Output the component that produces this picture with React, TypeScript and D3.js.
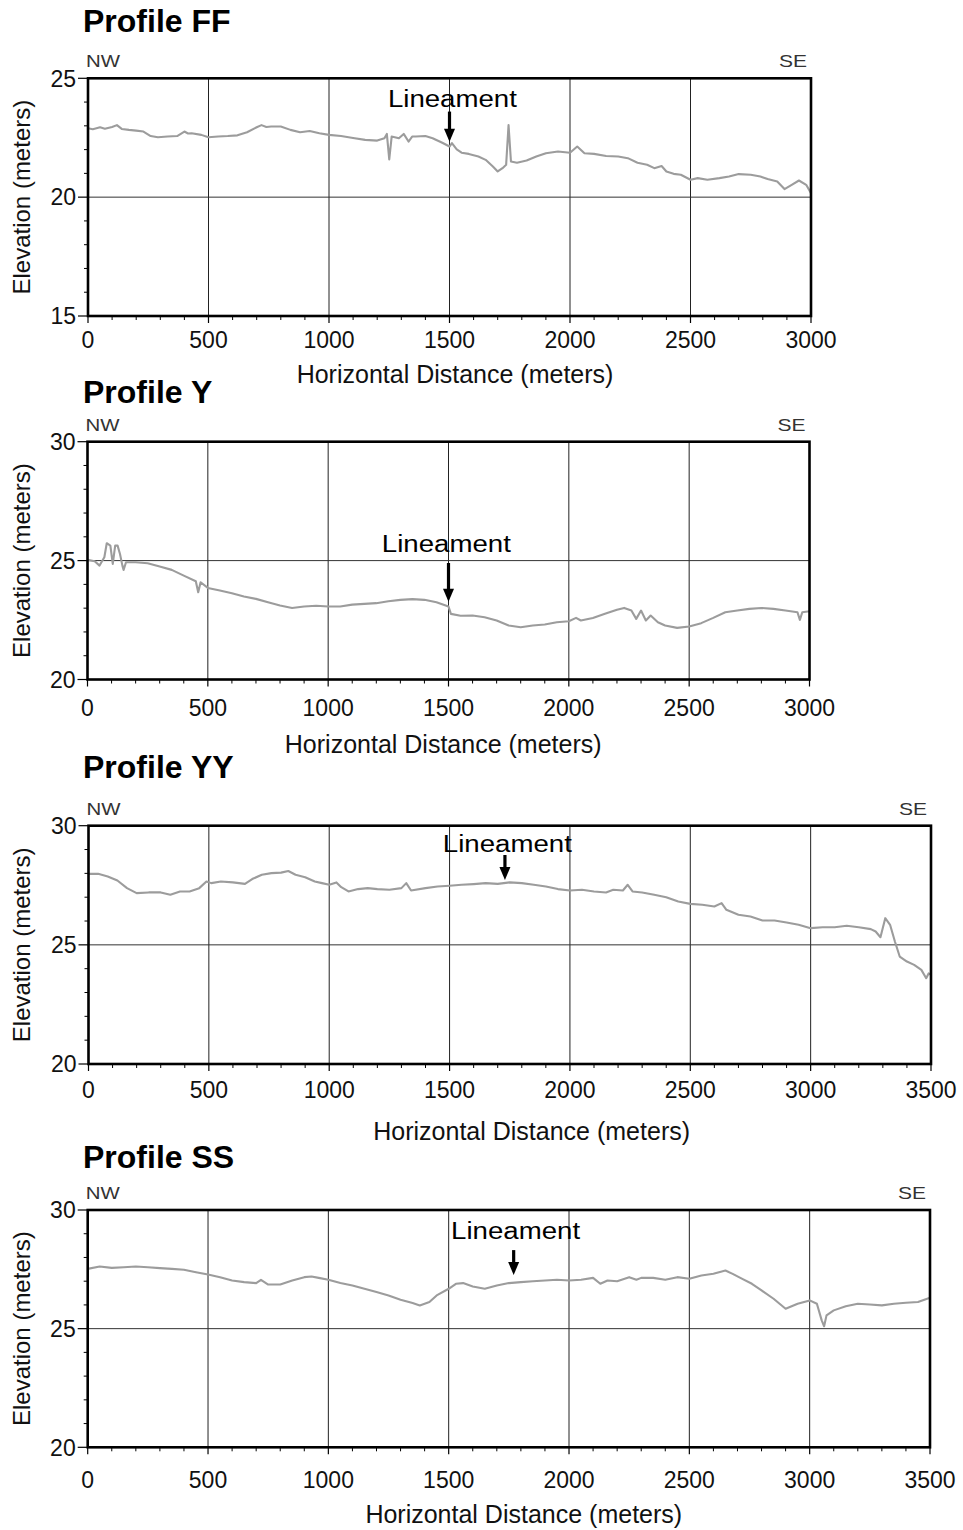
import React from 'react';
import * as d3 from 'd3';

// ---------- DATA ----------
const profileTitles = ['Profile FF', 'Profile Y', 'Profile YY', 'Profile SS'];
const xMaxima = [3000, 3000, 3500, 3500];
const yMinima = [15, 20, 20, 20];
const yMaxima = [25, 30, 30, 30];
const xAxisTitle = 'Horizontal Distance (meters)';
const yAxisTitle = 'Elevation (meters)';
const leftDirection = 'NW';
const rightDirection = 'SE';
const lineamentLabel = 'Lineament';
// lineament arrow (distance, elevation of arrow top / tip) and label position
const lineamentDistance = [1500, 1500, 1730, 1770];
const arrowTopElevation = [23.6, 24.9, 28.77, 28.31];
const arrowTipElevation = [22.33, 23.27, 27.72, 27.26];
const lineamentLabelDistance = [1512, 1491, 1740, 1778];
const lineamentLabelElevation = [23.78, 25.37, 28.9, 28.77];
const xTitleDistance = [1523, 1478, 1841, 1812];

const ffDistance = [0, 20, 50, 70, 100, 120, 140, 170, 200, 230, 260, 290, 330, 370, 400, 415, 430, 470, 500, 540, 580, 620, 660, 700, 720, 740, 760, 800, 840, 880, 920, 960, 1000, 1050, 1100, 1150, 1200, 1230, 1240, 1250, 1260, 1290, 1310, 1330, 1345, 1360, 1400, 1430, 1470, 1500, 1510, 1530, 1550, 1580, 1620, 1650, 1680, 1700, 1720, 1735, 1745, 1755, 1780, 1820, 1860, 1900, 1950, 2000, 2030, 2060, 2100, 2150, 2200, 2240, 2280, 2320, 2350, 2380, 2400, 2430, 2460, 2500, 2530, 2570, 2620, 2660, 2700, 2750, 2790, 2820, 2860, 2890, 2920, 2950, 2980, 3000];
const ffElevation = [22.90, 22.86, 22.94, 22.88, 22.95, 23.03, 22.87, 22.83, 22.80, 22.76, 22.57, 22.52, 22.55, 22.57, 22.76, 22.68, 22.69, 22.62, 22.52, 22.55, 22.57, 22.60, 22.73, 22.94, 23.03, 22.95, 22.97, 22.97, 22.83, 22.73, 22.78, 22.69, 22.62, 22.57, 22.49, 22.41, 22.38, 22.48, 22.66, 21.59, 22.55, 22.48, 22.66, 22.34, 22.55, 22.55, 22.57, 22.48, 22.29, 22.13, 22.27, 22.01, 21.87, 21.82, 21.71, 21.57, 21.29, 21.08, 21.22, 21.36, 23.03, 21.50, 21.45, 21.54, 21.71, 21.85, 21.92, 21.87, 22.13, 21.85, 21.82, 21.73, 21.71, 21.64, 21.45, 21.36, 21.22, 21.31, 21.08, 20.98, 20.94, 20.73, 20.80, 20.73, 20.80, 20.87, 20.97, 20.94, 20.87, 20.76, 20.66, 20.34, 20.52, 20.70, 20.52, 20.17];

const yDistance = [0, 30, 50, 70, 80, 95, 105, 115, 125, 135, 145, 150, 160, 200, 250, 300, 350, 400, 450, 460, 470, 500, 550, 600, 650, 700, 750, 800, 850, 900, 950, 1000, 1050, 1100, 1150, 1200, 1250, 1300, 1350, 1400, 1450, 1500, 1510, 1550, 1600, 1650, 1700, 1750, 1800, 1850, 1900, 1950, 2000, 2030, 2050, 2100, 2150, 2200, 2230, 2260, 2280, 2300, 2320, 2340, 2370, 2400, 2450, 2500, 2550, 2600, 2650, 2700, 2750, 2800, 2850, 2900, 2950, 2960, 2970, 3000];
const yElevation = [25.03, 24.97, 24.79, 25.14, 25.73, 25.63, 24.86, 25.63, 25.63, 25.28, 24.79, 24.61, 24.93, 24.93, 24.89, 24.75, 24.61, 24.37, 24.13, 23.67, 24.09, 23.85, 23.74, 23.63, 23.49, 23.39, 23.25, 23.11, 23.01, 23.07, 23.10, 23.07, 23.07, 23.15, 23.18, 23.21, 23.29, 23.35, 23.38, 23.35, 23.25, 23.07, 22.76, 22.68, 22.69, 22.62, 22.48, 22.27, 22.20, 22.27, 22.31, 22.41, 22.45, 22.59, 22.48, 22.59, 22.76, 22.93, 23.01, 22.90, 22.55, 22.90, 22.48, 22.69, 22.41, 22.27, 22.17, 22.23, 22.37, 22.59, 22.83, 22.90, 22.97, 23.01, 22.97, 22.90, 22.83, 22.51, 22.83, 22.87];

const yyDistance = [0, 40, 80, 120, 160, 200, 250, 300, 340, 380, 420, 460, 490, 510, 550, 600, 650, 680, 720, 760, 800, 830, 860, 900, 940, 970, 1000, 1030, 1050, 1080, 1120, 1160, 1200, 1250, 1300, 1320, 1340, 1400, 1450, 1500, 1550, 1600, 1650, 1700, 1750, 1800, 1850, 1900, 1950, 2000, 2050, 2100, 2150, 2180, 2220, 2240, 2260, 2300, 2350, 2400, 2450, 2500, 2550, 2600, 2630, 2650, 2700, 2750, 2800, 2850, 2900, 2950, 3000, 3050, 3100, 3150, 3200, 3250, 3270, 3290, 3310, 3330, 3350, 3370, 3400, 3430, 3460, 3480, 3490, 3500];
const yyElevation = [27.98, 27.98, 27.87, 27.70, 27.38, 27.17, 27.20, 27.20, 27.10, 27.24, 27.24, 27.38, 27.66, 27.59, 27.66, 27.62, 27.56, 27.76, 27.94, 28.01, 28.03, 28.10, 27.94, 27.84, 27.66, 27.59, 27.52, 27.62, 27.42, 27.24, 27.34, 27.38, 27.34, 27.31, 27.38, 27.59, 27.28, 27.38, 27.45, 27.48, 27.52, 27.55, 27.59, 27.56, 27.62, 27.59, 27.52, 27.45, 27.34, 27.28, 27.31, 27.24, 27.20, 27.31, 27.28, 27.52, 27.24, 27.20, 27.10, 27.00, 26.82, 26.72, 26.68, 26.61, 26.75, 26.47, 26.26, 26.19, 26.02, 26.02, 25.94, 25.84, 25.70, 25.74, 25.74, 25.80, 25.74, 25.66, 25.56, 25.32, 26.12, 25.84, 25.14, 24.51, 24.30, 24.16, 23.95, 23.60, 23.80, 23.74];

const ssDistance = [0, 50, 100, 150, 200, 250, 300, 350, 400, 450, 500, 550, 600, 650, 700, 720, 750, 800, 850, 900, 930, 960, 1000, 1050, 1100, 1150, 1200, 1250, 1300, 1350, 1380, 1420, 1450, 1500, 1530, 1560, 1600, 1650, 1700, 1750, 1800, 1850, 1900, 1950, 2000, 2050, 2100, 2130, 2160, 2200, 2250, 2280, 2300, 2350, 2400, 2450, 2500, 2550, 2600, 2650, 2680, 2720, 2760, 2800, 2850, 2900, 2950, 3000, 3030, 3050, 3060, 3070, 3100, 3150, 3200, 3250, 3300, 3350, 3400, 3450, 3500];
const ssElevation = [27.52, 27.62, 27.56, 27.59, 27.62, 27.59, 27.55, 27.52, 27.48, 27.38, 27.28, 27.17, 27.03, 26.96, 26.92, 27.06, 26.86, 26.86, 27.03, 27.17, 27.20, 27.14, 27.06, 26.92, 26.82, 26.68, 26.54, 26.40, 26.22, 26.08, 25.98, 26.12, 26.40, 26.68, 26.89, 26.92, 26.78, 26.68, 26.82, 26.92, 26.96, 27.00, 27.03, 27.06, 27.03, 27.06, 27.14, 26.89, 27.03, 27.00, 27.17, 27.06, 27.14, 27.14, 27.06, 27.17, 27.10, 27.24, 27.31, 27.45, 27.31, 27.10, 26.89, 26.61, 26.26, 25.84, 26.05, 26.19, 26.05, 25.35, 25.10, 25.56, 25.77, 25.94, 26.05, 26.02, 25.98, 26.05, 26.09, 26.12, 26.30];

const profileDistances = [ffDistance, yDistance, yyDistance, ssDistance];
const profileElevations = [ffElevation, yElevation, yyElevation, ssElevation];

// ---------- LAYOUT (pixels) ----------
const layouts = [
  { left: 88, right: 811, top: 78.3, bottom: 316, title: 32, tick: 348, xTitle: 383 },
  { left: 87.5, right: 809.5, top: 441.7, bottom: 679.5, title: 403, tick: 716, xTitle: 753 },
  { left: 88.5, right: 931, top: 825.7, bottom: 1064, title: 778, tick: 1098, xTitle: 1140 },
  { left: 87.7, right: 930, top: 1210, bottom: 1447.3, title: 1168, tick: 1488, xTitle: 1523 },
];

const FONT = '"Liberation Sans", Arial, Helvetica, sans-serif';

function Panel({ i }: { i: number }) {
  const L = layouts[i];
  const x = d3.scaleLinear().domain([0, xMaxima[i]]).range([L.left, L.right]);
  const y = d3.scaleLinear().domain([yMinima[i], yMaxima[i]]).range([L.bottom, L.top]);
  const xMajor = d3.range(0, xMaxima[i] + 1, 500);
  const xMinor = d3.range(0, xMaxima[i] + 1, 100).filter((v) => v % 500 !== 0);
  const yMajor = d3.range(yMinima[i], yMaxima[i] + 0.01, 5);
  const yMinor = d3.range(yMinima[i], yMaxima[i] + 0.01, 1).filter((v) => (v - yMinima[i]) % 5 !== 0);
  const pts = profileDistances[i].map((d, k) => [d, profileElevations[i][k]] as [number, number]);
  const line = d3.line<[number, number]>().x((d) => x(d[0])).y((d) => y(d[1]));

  const ax = x(lineamentDistance[i]);
  const aTop = y(arrowTopElevation[i]);
  const aTip = y(arrowTipElevation[i]);
  const headLen = 13;
  const headHalf = 5.5;

  return (
    <g>
      <text x={83} y={L.title} fontFamily={FONT} fontWeight="bold" fontSize={32} fill="#000">
        {profileTitles[i]}
      </text>
      <text x={L.left - 2} y={L.top - 11} fontFamily={FONT} fontSize={17} fill="#333" textLength={34} lengthAdjust="spacingAndGlyphs">
        {leftDirection}
      </text>
      <text x={L.right - 4} y={L.top - 11} fontFamily={FONT} fontSize={17} fill="#333" textAnchor="end" textLength={28} lengthAdjust="spacingAndGlyphs">
        {rightDirection}
      </text>

      {/* grid */}
      {xMajor.map((v) => (
        <line key={'gx' + v} x1={x(v)} x2={x(v)} y1={L.top} y2={L.bottom} stroke="#222" strokeWidth={1} />
      ))}
      {yMajor.map((v) => (
        <line key={'gy' + v} x1={L.left} x2={L.right} y1={y(v)} y2={y(v)} stroke="#333" strokeWidth={1} />
      ))}

      {/* ticks */}
      {xMajor.map((v) => (
        <line key={'tx' + v} x1={x(v)} x2={x(v)} y1={L.bottom} y2={L.bottom + 7} stroke="#000" strokeWidth={1.2} />
      ))}
      {xMinor.map((v) => (
        <line key={'tmx' + v} x1={x(v)} x2={x(v)} y1={L.bottom} y2={L.bottom + 4} stroke="#000" strokeWidth={1} />
      ))}
      {yMajor.map((v) => (
        <line key={'ty' + v} x1={L.left - 10} x2={L.left} y1={y(v)} y2={y(v)} stroke="#000" strokeWidth={1.2} />
      ))}
      {yMinor.map((v) => (
        <line key={'tmy' + v} x1={L.left - 4} x2={L.left} y1={y(v)} y2={y(v)} stroke="#000" strokeWidth={1} />
      ))}

      {/* tick labels */}
      {xMajor.map((v) => (
        <text key={'lx' + v} x={x(v)} y={L.tick} textAnchor="middle" fontFamily={FONT} fontSize={23} fill="#111">
          {v}
        </text>
      ))}
      {yMajor.map((v) => (
        <text key={'ly' + v} x={L.left - 12} y={y(v)} dy="0.36em" textAnchor="end" fontFamily={FONT} fontSize={23} fill="#111">
          {v}
        </text>
      ))}

      {/* profile line */}
      <path d={line(pts) || ''} fill="none" stroke="#9c9c9c" strokeWidth={2.1} strokeLinejoin="round" />

      {/* frame */}
      <rect x={L.left} y={L.top} width={L.right - L.left} height={L.bottom - L.top} fill="none" stroke="#000" strokeWidth={2.6} />

      {/* lineament annotation */}
      <text
        x={x(lineamentLabelDistance[i])}
        y={y(lineamentLabelElevation[i])}
        textAnchor="middle"
        fontFamily={FONT}
        fontSize={23}
        fill="#000"
        textLength={129}
        lengthAdjust="spacingAndGlyphs"
      >
        {lineamentLabel}
      </text>
      <line x1={ax} x2={ax} y1={aTop} y2={aTip - headLen + 1} stroke="#000" strokeWidth={3.2} />
      <path d={`M${ax - headHalf},${aTip - headLen}L${ax + headHalf},${aTip - headLen}L${ax},${aTip}Z`} fill="#000" />

      {/* axis titles */}
      <text x={x(xTitleDistance[i])} y={L.xTitle} textAnchor="middle" fontFamily={FONT} fontSize={25} fill="#111">
        {xAxisTitle}
      </text>
      <text
        transform={`translate(29.5,${(L.top + L.bottom) / 2}) rotate(-90)`}
        textAnchor="middle"
        fontFamily={FONT}
        fontSize={24}
        fill="#111"
      >
        {yAxisTitle}
      </text>
    </g>
  );
}

export default function App() {
  return (
    <svg
      width={963}
      height={1530}
      viewBox="0 0 963 1530"
      style={{ position: 'absolute', left: 0, top: 0, background: '#fff' }}
    >
      <rect x={0} y={0} width={963} height={1530} fill="#fff" />
      {profileTitles.map((_, i) => (
        <Panel key={i} i={i} />
      ))}
    </svg>
  );
}
